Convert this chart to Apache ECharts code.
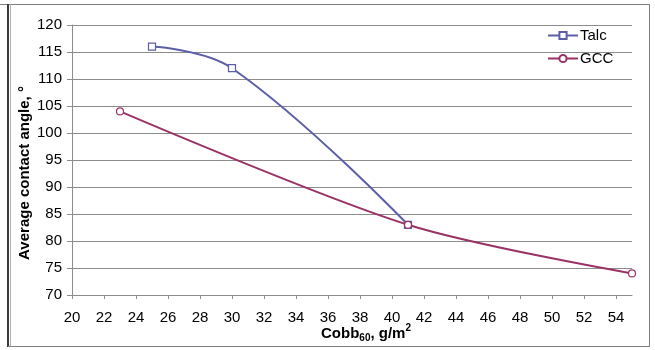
<!DOCTYPE html>
<html>
<head>
<meta charset="utf-8">
<script src="https://cdn.jsdelivr.net/npm/echarts@6/dist/echarts.min.js"></script>
<style>
  html, body { margin: 0; padding: 0; background: #fff; }
  #chart { width: 655px; height: 350px; }
</style>
</head>
<body>
<div id="chart"></div>
<script>
// Contact angle vs. Cobb60 water absorption for two fillers
const talcCobb = [25, 30, 41];
const talcAngle = [116, 112, 83];
const gccCobb = [23, 41, 55];
const gccAngle = [104, 83, 74];
const xTicks = [20, 22, 24, 26, 28, 30, 32, 34, 36, 38, 40, 42, 44, 46, 48, 50, 52, 54];
const yTicks = [70, 75, 80, 85, 90, 95, 100, 105, 110, 115, 120];

const FONT = '"Liberation Sans", Arial, sans-serif';
const TALC = '#5c5ea8';
const GCC = '#993366';
const GRID_GRAY = '#8c8c8c';

const pair = (xs, ys) => xs.map((x, i) => [x, ys[i]]);

const chart = echarts.init(document.getElementById('chart'), null, { renderer: 'canvas' });

chart.setOption({
  backgroundColor: '#ffffff',
  animation: false,
  grid: { left: 72, right: 23, top: 25, bottom: 55 },
  xAxis: {
    type: 'value',
    min: 20,
    max: 55,
    interval: 2,
    axisLine: { show: true, lineStyle: { color: GRID_GRAY, width: 1 } },
    axisTick: { show: true, length: 4, lineStyle: { color: GRID_GRAY }, customValues: xTicks },
    axisLabel: { color: '#000', fontFamily: FONT, fontSize: 15, margin: 15, customValues: xTicks },
    splitLine: { show: false }
  },
  yAxis: {
    type: 'value',
    min: yTicks[0],
    max: yTicks[yTicks.length - 1],
    interval: 5,
    axisLine: { show: true, lineStyle: { color: GRID_GRAY, width: 1 } },
    axisTick: { show: true, length: 5, lineStyle: { color: GRID_GRAY } },
    axisLabel: { color: '#000', fontFamily: FONT, fontSize: 15, margin: 10 },
    splitLine: { show: true, lineStyle: { color: GRID_GRAY, width: 1 } }
  },
  legend: {
    orient: 'vertical',
    left: 542,
    top: 23,
    itemWidth: 30,
    itemHeight: 9,
    itemGap: 8,
    textStyle: { color: '#000', fontFamily: FONT, fontSize: 15, padding: [0, 0, 0, -3] },
    data: ['Talc', 'GCC']
  },
  series: [
    {
      name: 'Talc',
      type: 'line',
      smooth: 0.4,
      data: pair(talcCobb, talcAngle),
      symbol: 'rect',
      symbolSize: 7,
      showAllSymbol: true,
      lineStyle: { color: TALC, width: 2 },
      itemStyle: { color: '#ffffff', borderColor: TALC, borderWidth: 1.2 },
      z: 3
    },
    {
      name: 'GCC',
      type: 'line',
      smooth: 0.3,
      data: pair(gccCobb, gccAngle),
      symbol: 'circle',
      symbolSize: 7,
      showAllSymbol: true,
      lineStyle: { color: GCC, width: 2 },
      itemStyle: { color: '#ffffff', borderColor: GCC, borderWidth: 1.2 },
      z: 4
    }
  ],
  graphic: [
    // outer frame
    { type: 'line', shape: { x1: 0, y1: 4.5, x2: 650, y2: 4.5 }, style: { stroke: '#808080', lineWidth: 1 }, silent: true },
    { type: 'line', shape: { x1: 8, y1: 4, x2: 8, y2: 347 }, style: { stroke: '#3a3a3a', lineWidth: 2 }, silent: true },
    { type: 'line', shape: { x1: 10.5, y1: 4, x2: 10.5, y2: 347 }, style: { stroke: '#b0b0b0', lineWidth: 1 }, silent: true },
    { type: 'line', shape: { x1: 649.5, y1: 4, x2: 649.5, y2: 347 }, style: { stroke: '#808080', lineWidth: 1 }, silent: true },
    { type: 'line', shape: { x1: 8, y1: 346.5, x2: 650, y2: 346.5 }, style: { stroke: '#808080', lineWidth: 1 }, silent: true },
    // y axis title
    {
      type: 'text',
      x: 25, y: 173,
      rotation: Math.PI / 2,
      style: {
        text: 'Average contact angle, °',
        fill: '#000',
        font: 'bold 15px ' + FONT,
        align: 'center',
        verticalAlign: 'middle'
      },
      silent: true
    },
    // x axis title
    {
      type: 'text',
      x: 366, y: 332,
      style: {
        text: '{a|Cobb}{sub|60}{a|, g/m}{sup|2}',
        align: 'center',
        verticalAlign: 'middle',
        rich: {
          a: { font: 'bold 15px ' + FONT, fill: '#000', verticalAlign: 'bottom', lineHeight: 18 },
          sub: { font: 'bold 10px ' + FONT, fill: '#000', verticalAlign: 'bottom', lineHeight: 18, padding: [0, 0, -2, 0] },
          sup: { font: 'bold 10px ' + FONT, fill: '#000', verticalAlign: 'top', lineHeight: 18, padding: [0, 0, 4, 0] }
        }
      },
      silent: true
    }
  ]
});
</script>
</body>
</html>
